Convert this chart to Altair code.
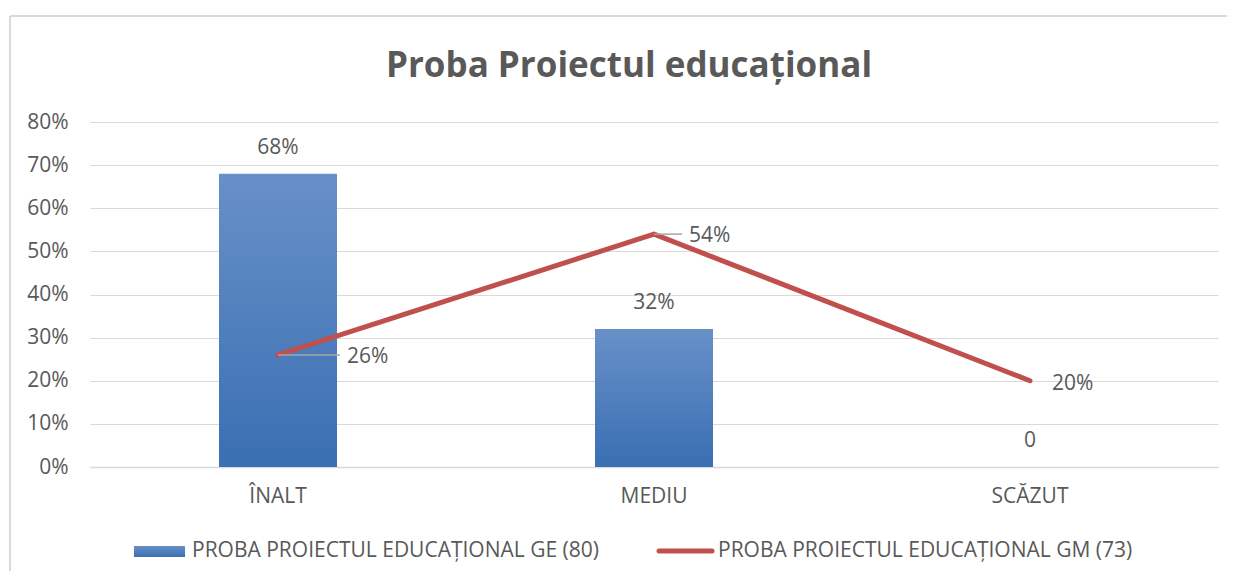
import altair as alt
import pandas as pd

categories = ["ÎNALT", "MEDIU", "SCĂZUT"]
ge_values = [0.68, 0.32, 0.0]
gm_values = [0.26, 0.54, 0.20]
ge_labels = ["68%", "32%", "0"]
gm_labels = ["26%", "54%", "20%"]
series_ge = "PROBA PROIECTUL EDUCAȚIONAL GE (80)"
series_gm = "PROBA PROIECTUL EDUCAȚIONAL GM (73)"
title_text = "Proba Proiectul educațional"
y_ticks = [0, 0.1, 0.2, 0.3, 0.4, 0.5, 0.6, 0.7, 0.8]

df = pd.DataFrame({"cat": categories, "ge": ge_values, "gm": gm_values,
                   "ge_lab": ge_labels, "gm_lab": gm_labels})
one = pd.DataFrame({"t": [title_text], "a": [series_ge], "b": [series_gm]})

FONT = "Open Sans"
TXT = "#595959"
GRID = "#d9d9d9"
FS = 21

xenc = alt.X("cat:N", sort=categories, title=None,
             scale=alt.Scale(paddingInner=0, paddingOuter=0),
             axis=alt.Axis(labelAngle=0, ticks=False, domain=True, domainColor=GRID,
                           domainWidth=1.5, labelFontSize=FS, labelColor=TXT,
                           labelFont=FONT, labelPadding=18))
yenc = alt.Y("ge:Q", title=None,
             scale=alt.Scale(domain=[0, 0.8], nice=False),
             axis=alt.Axis(values=y_ticks, format=".0%", ticks=False, domain=False,
                           grid=True, gridColor=GRID, gridWidth=1.2, labelFontSize=FS,
                           labelColor=TXT, labelFont=FONT, labelPadding=22))

grad = alt.Gradient(gradient="linear",
                    stops=[alt.GradientStop(color="#6890c8", offset=0),
                           alt.GradientStop(color="#3a6fb3", offset=1)],
                    x1=0, x2=0, y1=0, y2=1)

base = alt.Chart(df)
xc = alt.X("cat:N", sort=categories)

bars = base.mark_bar(width=118, color=grad).encode(x=xenc, y=yenc)

bar_labels = base.mark_text(fontSize=FS, font=FONT, color=TXT, baseline="middle",
                            dy=-26).encode(x=xc, y=alt.Y("ge:Q"), text="ge_lab:N")

line = base.mark_line(color="#c0504d", strokeWidth=5, strokeCap="round",
                      strokeJoin="round").encode(x=xc, y=alt.Y("gm:Q"))

leader_layers = []
for cat, length in [("ÎNALT", 62), ("MEDIU", 28)]:
    leader_layers.append(
        base.transform_filter(alt.datum.cat == cat).mark_rule(
            color="#a6a6a6", strokeWidth=1.5, x2Offset=length).encode(
            x=xc, x2=alt.X2("cat:N"), y=alt.Y("gm:Q")))

lab_layers = []
for cat, dx, dy in [("ÎNALT", 69, 2), ("MEDIU", 35, 2), ("SCĂZUT", 22, 3)]:
    lab_layers.append(
        base.transform_filter(alt.datum.cat == cat).mark_text(
            fontSize=FS, font=FONT, color=TXT, align="left", baseline="middle",
            dx=dx, dy=dy).encode(x=xc, y=alt.Y("gm:Q"), text="gm_lab:N"))

title = alt.Chart(one).mark_text(fontSize=35, font=FONT, fontWeight="bold", color=TXT,
                                 baseline="middle", align="center").encode(
    x=alt.value(539), y=alt.value(-56), text="t:N")

frame_top = alt.Chart(one).mark_rule(color="#d9d9d9", strokeWidth=2).encode(
    x=alt.value(-80), x2=alt.value(1140), y=alt.value(-106))
frame_left = alt.Chart(one).mark_rule(color="#d9d9d9", strokeWidth=2).encode(
    x=alt.value(-80), y=alt.value(-106), y2=alt.value(460))

leg_rect = alt.Chart(one).mark_rect(color=grad).encode(
    x=alt.value(44), x2=alt.value(95), y=alt.value(424), y2=alt.value(435))
leg_text_a = alt.Chart(one).mark_text(fontSize=FS, font=FONT, color=TXT, align="left",
                                      baseline="middle").encode(
    x=alt.value(102), y=alt.value(429), text="a:N")
leg_line = alt.Chart(one).mark_rule(color="#c0504d", strokeWidth=5, strokeCap="round").encode(
    x=alt.value(569), x2=alt.value(622), y=alt.value(429))
leg_text_b = alt.Chart(one).mark_text(fontSize=FS, font=FONT, color=TXT, align="left",
                                      baseline="middle").encode(
    x=alt.value(628), y=alt.value(429), text="b:N")

chart = alt.layer(bars, bar_labels, line, *leader_layers, *lab_layers, title,
                  frame_top, frame_left, leg_rect, leg_text_a, leg_line, leg_text_b
).properties(
    width=1128, height=345,
    autosize=alt.AutoSizeParams(type="none"),
    padding={"left": 82, "top": 114, "right": 9, "bottom": 104},
    background="white",
).configure_view(stroke=None)

chart.save("out.html", embed_options={"renderer": "svg", "actions": False})
